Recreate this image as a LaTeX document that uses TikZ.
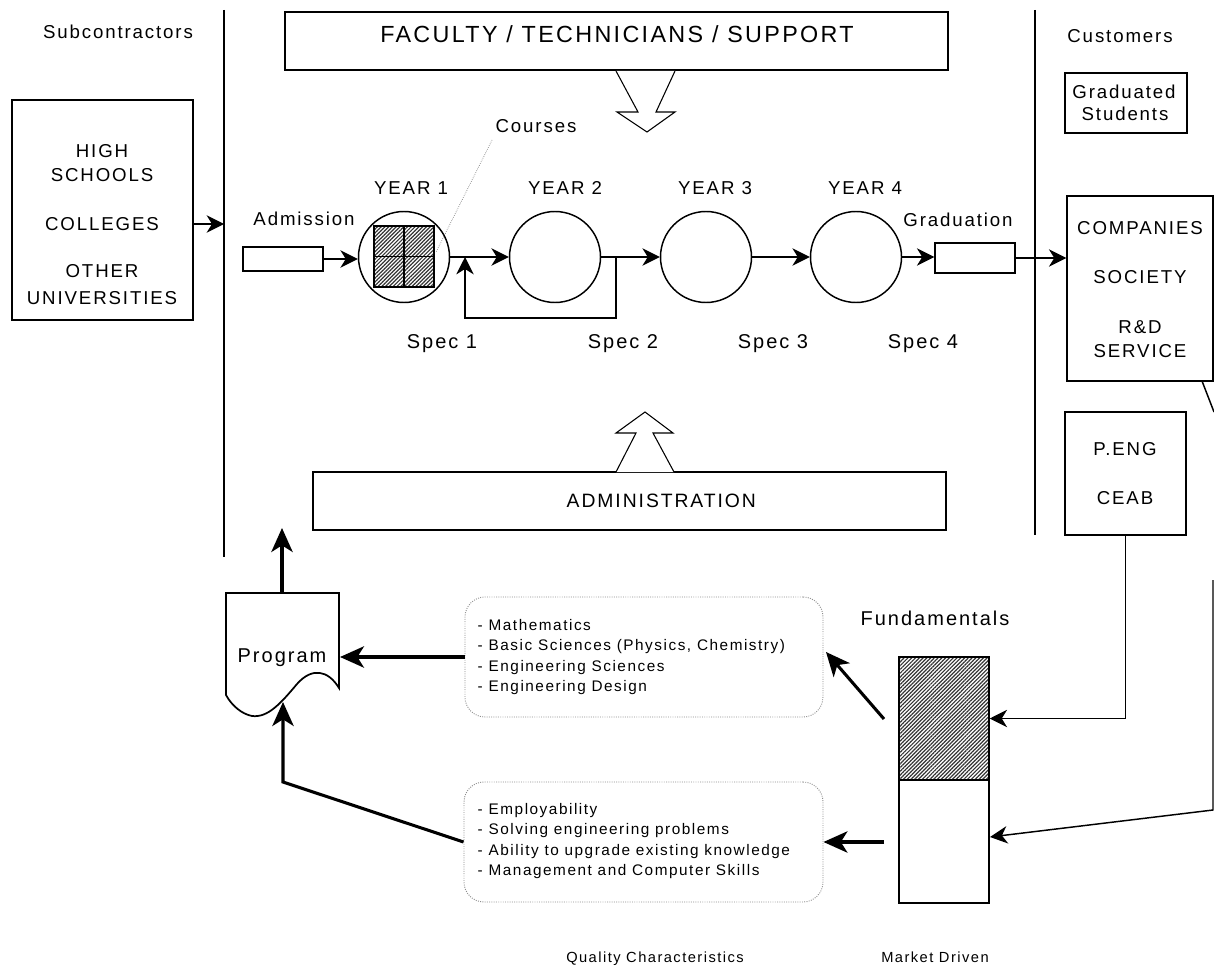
\documentclass[tikz,border=0pt]{standalone}
\usepackage{fontspec}
\setmainfont{Liberation Sans}[LetterSpace=10]
\usetikzlibrary{arrows.meta,patterns.meta,fit}
\newcommand\fsN{\fontsize{14}{17}\selectfont}
\newcommand\fsL{\fontsize{11.5}{15.4}\selectfont}
\newcommand\fsP{\fontsize{15}{18}\selectfont}
\newcommand\fsB{\fontsize{17.5}{20}\selectfont}
\newcommand\fsA{\fontsize{14.5}{17}\selectfont}
\newcommand\fsC{\fontsize{11}{14}\selectfont}
\begin{document}
\begin{tikzpicture}[x=0.75pt,y=-0.75pt,line width=1.1pt,
  box/.style={draw,line width=1.1pt,inner sep=0pt},
  txt/.style={inner sep=0pt,font=\fsN,anchor=base},
  flow/.style={line width=1.1pt,-{Stealth[length=13pt,width=13pt,inset=4pt]}},
  bigarrow/.style={line width=2.3pt,-{Stealth[length=18pt,width=16pt,inset=5pt]}},
  hatch/.style={pattern={Lines[angle=45,distance=2pt,line width=0.9pt]},pattern color=black!80},
  dotbox/.style={draw=black!45,densely dotted,line width=0.7pt,rounded corners=15pt,inner sep=0pt},
  hollow/.style={draw,line width=0.8pt,fill=white,line join=miter},
  yearc/.style={circle,draw,line width=1.1pt,minimum size=68.25pt,inner sep=0pt},
  listtxt/.style={inner sep=0pt,font=\fsL,align=left,anchor=west}
]
\useasboundingbox (0,0) rectangle (1214,970);
% dividing lines
\coordinate (L1t) at (224,10); \coordinate (L1b) at (224,557);
\coordinate (L2t) at (1035,10); \coordinate (L2b) at (1035,535);
\draw (L1t) -- (L1b);
\draw (L2t) -- (L2b);
\node[txt] (subc) at (118,39) {Subcontractors};
\node[txt] (cust) at (1120,43) {Customers};
% sources
\node[box,fit={(12,100)(193,320)}] (src) {};
\node[txt] (hs1) at (102,158) {HIGH};
\node[txt] (hs2) at (102,182) {SCHOOLS};
\node[txt] (hs3) at (102,230) {COLLEGES};
\node[txt] (hs4) at (102,277) {OTHER};
\node[txt] (hs5) at (102,304) {UNIVERSITIES};
\coordinate (sa) at (193,224); \coordinate (sb) at (224,224);
\draw[flow] (sa) -- (sb);
% faculty
\node[box,fit={(285,12)(948,70)}] (fac) {};
\node[txt,font=\fsB] (factxt) at (617,43) {FACULTY / TECHNICIANS / SUPPORT};
\draw[hollow] (616,71) -- (638,112) -- (617,112) -- (647,132) -- (675,112) -- (656,112) -- (675,71);
% administration
\node[box,fit={(313,472)(946,530)}] (adm) {};
\node[txt,font=\fsA,anchor=base west] (admtxt) at (566,507) {ADMINISTRATION};
\draw[hollow] (616,472) -- (636,433) -- (616,433) -- (645,412) -- (673,433) -- (653,433) -- (674,472);
% courses
\node[txt] (courses) at (536,133) {Courses};
\coordinate (cl1) at (492,140); \coordinate (cl2) at (436,252);
\draw[black!55,densely dotted,line width=0.5pt] (cl1) -- (cl2);
% years
\node[yearc] (y1) at (404,257) {};
\node[yearc] (y2) at (555,257) {};
\node[yearc] (y3) at (706,257) {};
\node[yearc] (y4) at (856,257) {};
\node[txt] at (411,195) {YEAR 1};
\node[txt] at (565,195) {YEAR 2};
\node[txt] at (715,195) {YEAR 3};
\node[txt] at (865,195) {YEAR 4};
\fill[hatch] (374,226) rectangle (434,287);
\draw (374,226) rectangle (434,287);
\draw (404,226) -- (404,287);
\draw (374,256.5) -- (434,256.5);
% admission
\node[txt] (admis) at (304,225) {Admission};
\node[box,fit={(243,247)(323,271)}] (abox) {};
\draw[flow] (abox.east) -- (abox.east -| y1.west);
\draw[flow] (y1.east) -- (y2.west);
\coordinate (j2) at (616,257); \coordinate (fb2) at (616,318); \coordinate (fb1) at (465,318); \coordinate (fb0) at (465,257);
\draw[flow] (j2) -- (fb2) -- (fb1) -- (fb0);
\draw[flow] (y2.east) -- (y3.west);
\draw[flow] (y3.east) -- (y4.west);
% graduation
\node[txt] (gradt) at (958,227) {Graduation};
\node[box,fit={(935,243)(1015,273)}] (gbox) {};
\draw[flow] (y4.east) -- (y4.east -| gbox.west);
% customers
\node[draw,line width=2.2pt,inner sep=0pt,fit={(1065,73)(1187,133)}] (gs) {};
\node[txt] at (1124,99) {Graduated};
\node[txt] at (1125,121) {Students};
\node[box,fit={(1067,196)(1213,381)}] (comp) {};
\node[txt] at (1140,234) {COMPANIES};
\node[txt] at (1140,283) {SOCIETY};
\node[txt] at (1140,333) {R\&D};
\node[txt] at (1140,357) {SERVICE};
\draw[flow] (gbox.east) -- (gbox.east -| comp.west);
\node[box,fit={(1065,412)(1186,535)}] (peng) {};
\node[txt] at (1125,455) {P.ENG};
\node[txt] at (1125,504) {CEAB};
% spec labels
\node[txt,font=\fsP] at (442,348) {Spec 1};
\node[txt,font=\fsP] at (623,348) {Spec 2};
\node[txt,font=\fsP] at (773,348) {Spec 3};
\node[txt,font=\fsP] at (923,348) {Spec 4};
% program
\draw[line width=1.3pt,line join=miter] (226,593) -- (339,593) -- (339,688)
  .. controls (328,670) and (312,667) .. (297,684)
  .. controls (281,703) and (268,718) .. (252,716)
  .. controls (242,714) and (232,706) .. (226,695) -- cycle;
\node[txt,font=\fsP] (prog) at (282,662) {Program};
\coordinate (progtop) at (282,593); \coordinate (uptip) at (282,528);
\coordinate (progright) at (340,656); \coordinate (progbot) at (283,702);
\coordinate (qbend) at (283,782);
\draw[bigarrow] (progtop) -- (uptip);
% list boxes
\node[dotbox,fit={(465,597)(823,717)}] (fbox) {};
\node[listtxt] at (477,657) {- Mathematics\\- Basic Sciences (Physics, Chemistry)\\- Engineering Sciences\\- Engineering Design};
\node[dotbox,fit={(464,782)(823,902)}] (qbox) {};
\node[listtxt] at (477,841) {- Employability\\- Solving engineering problems\\- Ability to upgrade existing knowledge\\- Management and Computer Skills};
\draw[bigarrow] (fbox.west) -- (fbox.west -| progright);
\draw[bigarrow] (qbox.west) -- (qbend) -- (progbot);
% block
\node[box,hatch,fit={(899,657)(989,780)}] (fund) {};
\node[box,fit={(899,780)(989,903)}] (mkt) {};
\coordinate (fa) at (884,719); \coordinate (ft) at (826,652);
\coordinate (ma) at (884,842);
\draw[bigarrow] (fa) -- (ft);
\draw[bigarrow] (ma) -- (qbox.east);
\draw[flow] (peng.south) |- (fund.east);
\coordinate (c1) at (1202,381); \coordinate (c2) at (1214,412);
\draw (c1) -- (c2);
\coordinate (r1) at (1213,580); \coordinate (r2) at (1213,810); \coordinate (mt) at (990,837);
\draw[flow] (r1) -- (r2) -- (mt);
% captions
\node[txt,font=\fsP] at (935,625) {Fundamentals};
\node[txt,font=\fsC] at (655,962) {Quality Characteristics};
\node[txt,font=\fsC] at (935,962) {Market Driven};
\end{tikzpicture}
\end{document}
